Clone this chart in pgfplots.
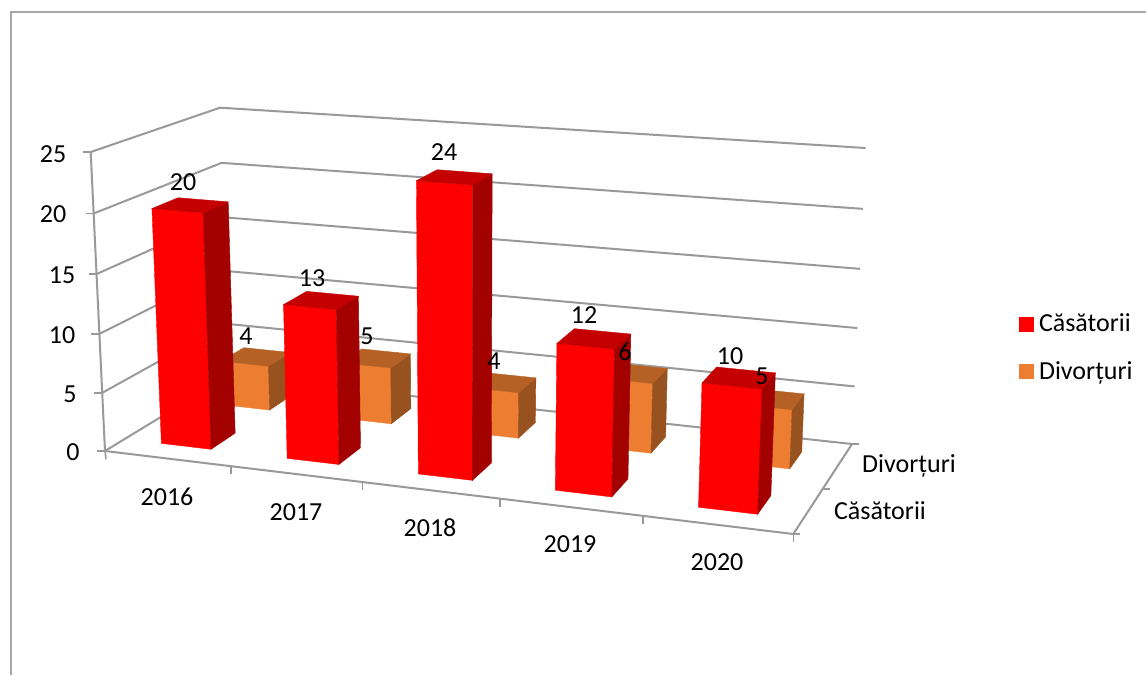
\documentclass[border=0pt]{standalone}
\usepackage{fontspec}
\setmainfont{Carlito}
\usepackage{pgfplots}
\pgfplotsset{compat=1.18}
\definecolor{gridc}{HTML}{999999}
\definecolor{framec}{HTML}{A6A6A6}
\definecolor{rf}{HTML}{FF0000}
\definecolor{rs}{HTML}{A30000}
\definecolor{rt}{HTML}{C40000}
\definecolor{of}{HTML}{ED7D31}
\definecolor{os}{HTML}{98521F}
\definecolor{ot}{HTML}{B56024}
% projection of (category position u, depth d, value v) on the picture
\def\fx{(1-ww(\thisrow{v}))*botX(ss(\thisrow{u}),\thisrow{d})+ww(\thisrow{v})*topX(ss(\thisrow{u}),\thisrow{d})}
\def\fy{(1-ww(\thisrow{v}))*botY(ss(\thisrow{u}),\thisrow{d})+ww(\thisrow{v})*topY(ss(\thisrow{u}),\thisrow{d})}
\newcommand{\face}[2]{\addplot[fill=#1,draw=#1,line width=0.4pt,forget plot] table[row sep=\\,x expr=\fx,y expr=\fy]{u d v\\ #2} -- cycle;}
% #1 u0, #2 u1, #3 d0, #4 d1, #5 value, #6 front, #7 side, #8 top
\newcommand{\cuboid}[8]{%
\face{#6}{#1 #3 0\\ #2 #3 0\\ #2 #3 #5\\ #1 #3 #5\\}
\face{#7}{#2 #3 0\\ #2 #4 0\\ #2 #4 #5\\ #2 #3 #5\\}
\face{#8}{#1 #3 #5\\ #2 #3 #5\\ #2 #4 #5\\ #1 #4 #5\\}}
\newcommand{\redbar}[3]{\cuboid{#1}{#2}{0.16}{0.37}{#3}{rf}{rs}{rt}}
\newcommand{\orangebar}[3]{\cuboid{#1}{#2}{0.67}{0.86}{#3}{of}{os}{ot}}
\newcommand{\gridlevel}[1]{\addplot[gridc,line width=2pt,forget plot] table[row sep=\\,x expr=\fx,y expr=\fy]{u d v\\ 0 0 #1\\ 0 1 #1\\ 5 1 #1\\};}
\newcommand{\tickmark}[5]{\addplot[gridc,line width=1.6pt,forget plot] table[row sep=\\,x expr=\fx+\thisrow{o},y expr=\fy+\thisrow{p}]{u d v o p\\ #1 #2 #3 0 0\\ #1 #2 #3 #4 #5\\};}
\tikzset{lab/.style={font=\fontsize{26}{30}\selectfont,inner sep=0pt,anchor=center,text=black}}
\begin{document}
\begin{tikzpicture}
\useasboundingbox (0,0) rectangle (1146pt,675pt);
\begin{axis}[
  at={(0,0)},anchor=south west,
  scale only axis,width=1146pt,height=675pt,
  xmin=0,xmax=1146,ymin=0,ymax=675,y dir=reverse,
  hide axis,clip=false,
  declare function={
    ss(\ua)=\ua/(5.575-0.115*\ua);
    ww(\va)=\va/(25.875-0.035*\va);
    botX(\sa,\de)=105+688.3*\sa+123*\de-64.3*\sa*\de;
    botY(\sa,\de)=451+83*\sa-75*\de-15*\sa*\de;
    topX(\sa,\de)=90.7+715.3*\sa+129.3*\de-69.6*\sa*\de;
    topY(\sa,\de)=152+56*\sa-44.3*\de-15.7*\sa*\de;
  },
  legend cell align=left,
  legend style={at={(axis cs:1019,312)},anchor=north west,draw=none,fill=none,
    font=\fontsize{26}{30}\selectfont,row sep=24pt,inner sep=0pt,outer sep=0pt},
]
% outer frame
\addplot[framec,line width=1.2pt,forget plot] coordinates {(11,675) (11,12) (1146,12)};
% walls
\gridlevel{0}\gridlevel{5}\gridlevel{10}\gridlevel{15}\gridlevel{20}\gridlevel{25}
% axes
\addplot[gridc,line width=2pt,forget plot] table[row sep=\\,x expr=\fx,y expr=\fy]{u d v\\ 0 0 25\\ 0 0 0\\ 5 0 0\\ 5 1 0\\};
\tickmark{0}{0}{0}{-8}{0}\tickmark{0}{0}{5}{-8}{0}\tickmark{0}{0}{10}{-8}{0}
\tickmark{0}{0}{15}{-8}{0}\tickmark{0}{0}{20}{-8}{0}\tickmark{0}{0}{25}{-8}{0}
\tickmark{0}{0}{0}{1}{8}\tickmark{1}{0}{0}{0}{8}\tickmark{2}{0}{0}{0}{8}
\tickmark{3}{0}{0}{0}{8}\tickmark{4}{0}{0}{0}{8}\tickmark{5}{0}{0}{0}{8}
\tickmark{5}{0}{0}{7}{0}\tickmark{5}{0.5}{0}{7}{0}\tickmark{5}{1}{0}{7}{0}
% Divorturi
\orangebar{0.3}{0.7}{4}
\orangebar{1.3}{1.7}{5}
\orangebar{2.3}{2.7}{4}
\orangebar{3.3}{3.7}{6}
\orangebar{4.3}{4.7}{5}
% Casatorii
\redbar{0.3}{0.7}{20}
\redbar{1.3}{1.7}{13}
\redbar{2.3}{2.7}{24}
\redbar{3.3}{3.7}{12}
\redbar{4.3}{4.7}{10}
% legend
\addlegendimage{only marks,mark=square*,mark size=7pt,mark options={draw=rf,fill=rf,line width=0.4pt}}
\addlegendentry{\hspace{4pt}Căsătorii}
\addlegendimage{only marks,mark=square*,mark size=7pt,mark options={draw=of,fill=of,line width=0.4pt}}
\addlegendentry{\hspace{4pt}Divorțuri}
% value axis labels
\node[lab] at (axis cs:53,154) {25};
\node[lab] at (axis cs:53,214) {20};
\node[lab] at (axis cs:62,275) {15};
\node[lab] at (axis cs:62,335) {10};
\node[lab] at (axis cs:70,394) {5};
\node[lab] at (axis cs:73,452) {0};
% category labels
\node[lab] at (axis cs:167,497) {2016};
\node[lab] at (axis cs:296,512) {2017};
\node[lab] at (axis cs:430,528) {2018};
\node[lab] at (axis cs:570,544) {2019};
\node[lab] at (axis cs:717,562) {2020};
\node[lab] at (axis cs:909,466) {Divorțuri};
\node[lab] at (axis cs:880,511) {Căsătorii};
% data labels
\node[lab] at (axis cs:183,182) {20};
\node[lab] at (axis cs:246,336) {4};
\node[lab] at (axis cs:312,278) {13};
\node[lab] at (axis cs:367,336) {5};
\node[lab] at (axis cs:444,152) {24};
\node[lab] at (axis cs:494,361) {4};
\node[lab] at (axis cs:584,315) {12};
\node[lab] at (axis cs:625,352) {6};
\node[lab] at (axis cs:730,356) {10};
\node[lab] at (axis cs:762,376) {5};
\end{axis}
\end{tikzpicture}
\end{document}
